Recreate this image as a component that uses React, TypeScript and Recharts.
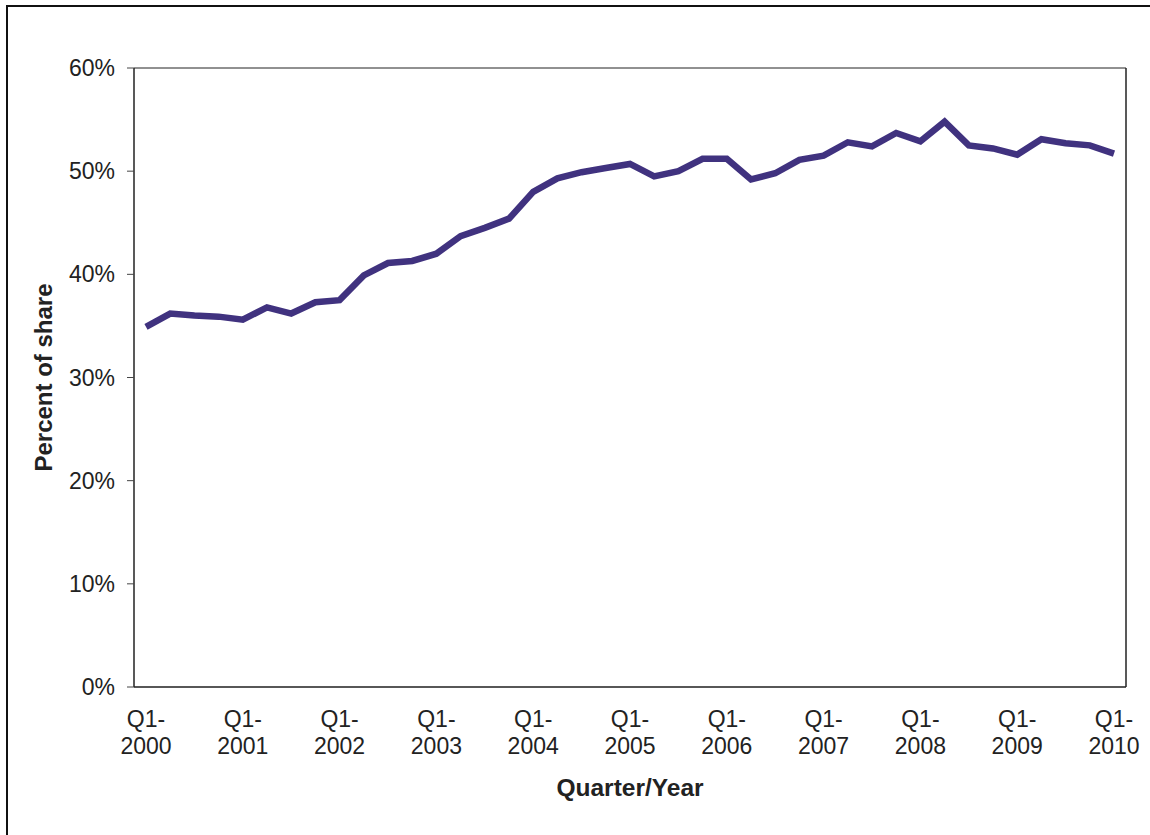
import React from 'react';
import { LineChart, Line, XAxis, YAxis, CartesianGrid } from 'recharts';

const years = ['2000', '2001', '2002', '2003', '2004', '2005', '2006', '2007', '2008', '2009', '2010'];
const quarters = ['Q1', 'Q2', 'Q3', 'Q4'];

const categories: string[] = [];
years.forEach((y) => {
  quarters.forEach((q) => {
    if (y === '2010' && q !== 'Q1') return;
    categories.push(`${q}-${y}`);
  });
});

const shareValues = [
  34.9, 36.2, 36.0, 35.9, 35.6, 36.8, 36.2, 37.3, 37.5, 39.9,
  41.1, 41.3, 42.0, 43.7, 44.5, 45.4, 48.0, 49.3, 49.9, 50.3,
  50.7, 49.5, 50.0, 51.2, 51.2, 49.2, 49.8, 51.1, 51.5, 52.8,
  52.4, 53.7, 52.9, 54.8, 52.5, 52.2, 51.6, 53.1, 52.7, 52.5,
  51.7,
];

const yTicks = [0, 10, 20, 30, 40, 50, 60];

const data = categories.map((c, i) => ({ quarter: c, share: shareValues[i] }));

const FONT = '"Liberation Sans", Arial, sans-serif';
const TEXT = '#222222';

const XTick = (props: any) => {
  const { x, y, payload } = props;
  const [q, yr] = String(payload.value).split('-');
  return (
    <text x={x} y={y} textAnchor="middle" fontFamily={FONT} fontSize={23} fill={TEXT}>
      <tspan x={x} dy={40}>{`${q}-`}</tspan>
      <tspan x={x} dy={27}>{yr}</tspan>
    </text>
  );
};

const YLabel = (props: any) => {
  const vb = props.viewBox || {};
  const cx = 43;
  const cy = (vb.y ?? 0) + (vb.height ?? 0) / 2;
  return (
    <text
      x={cx}
      y={cy}
      transform={`rotate(-90, ${cx}, ${cy})`}
      textAnchor="middle"
      dominantBaseline="central"
      fontFamily={FONT}
      fontSize={24}
      fontWeight="bold"
      fill={TEXT}
    >
      Percent of share
    </text>
  );
};

const XLabel = (props: any) => {
  const vb = props.viewBox || {};
  const cx = (vb.x ?? 0) + (vb.width ?? 0) / 2;
  const cy = (vb.y ?? 0) + 100;
  return (
    <text
      x={cx}
      y={cy}
      textAnchor="middle"
      dominantBaseline="central"
      fontFamily={FONT}
      fontSize={24.5}
      fontWeight="bold"
      fill={TEXT}
    >
      Quarter/Year
    </text>
  );
};

export default function App() {
  return (
    <div
      style={{
        position: 'fixed',
        left: 0,
        top: 0,
        width: 1150,
        height: 835,
        overflow: 'hidden',
        background: '#ffffff',
      }}
    >
      <div
        style={{
          position: 'absolute',
          left: 6,
          top: 5,
          width: 1200,
          height: 900,
          border: '2px solid #111111',
        }}
      />
      <div style={{ position: 'absolute', left: 0, top: 0 }}>
        <LineChart
          width={1150}
          height={835}
          data={data}
          margin={{ top: 68, right: 22, bottom: 0, left: 0 }}
        >
          <CartesianGrid vertical={false} stroke="#222222" strokeWidth={1} />
          <XAxis
            dataKey="quarter"
            height={148}
            interval={3}
            padding={{ left: 12, right: 12 }}
            tickLine={false}
            tickSize={0}
            tickMargin={0}
            axisLine={{ stroke: '#444444', strokeWidth: 1.5 }}
            tick={<XTick />}
            label={<XLabel />}
          />
          <YAxis
            yAxisId="left"
            width={134}
            domain={[0, 60]}
            ticks={yTicks}
            tickFormatter={(v: number) => `${v}%`}
            tickSize={7}
            tickMargin={12}
            tickLine={{ stroke: '#444444' }}
            axisLine={{ stroke: '#222222', strokeWidth: 1.5 }}
            tick={{ fontFamily: FONT, fontSize: 23, fill: TEXT }}
            label={<YLabel />}
          />
          <YAxis
            yAxisId="right"
            orientation="right"
            width={2}
            domain={[0, 60]}
            ticks={yTicks}
            tick={false}
            tickLine={false}
            axisLine={{ stroke: '#222222', strokeWidth: 1.5 }}
          />
          <Line
            yAxisId="left"
            type="linear"
            dataKey="share"
            stroke="#40327f"
            strokeWidth={6.5}
            dot={false}
            activeDot={false}
            isAnimationActive={false}
          />
        </LineChart>
      </div>
    </div>
  );
}
